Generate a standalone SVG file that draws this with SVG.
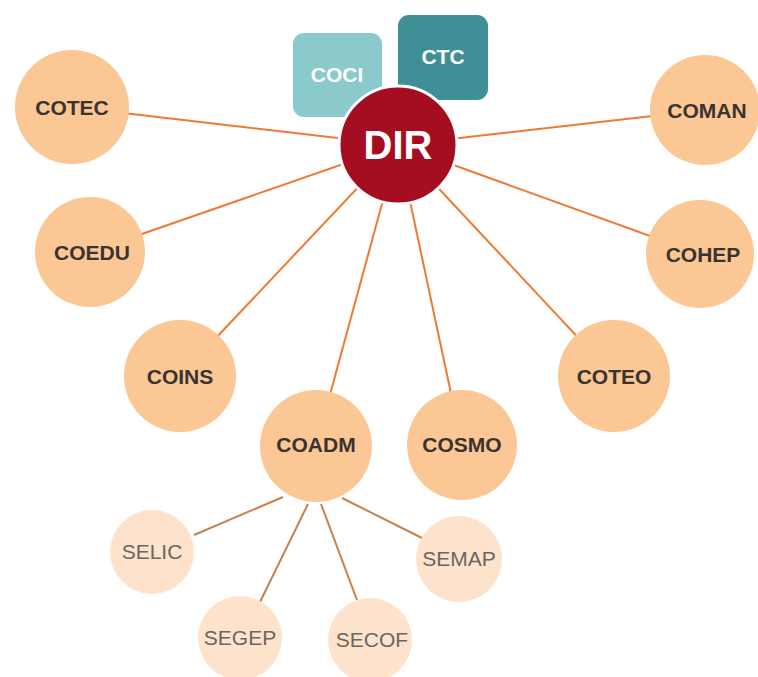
<svg xmlns="http://www.w3.org/2000/svg" width="758" height="677" viewBox="0 0 758 677">
<style>
.big{fill:#fbc795}
.small{fill:#fde3cb}
.bt{font-family:"Liberation Sans",Arial,sans-serif;font-weight:bold;font-size:21px;fill:#3a3330;text-anchor:middle}
.st{font-family:"Liberation Sans",Arial,sans-serif;font-size:21px;fill:#6a6663;text-anchor:middle}
.wt{font-family:"Liberation Sans",Arial,sans-serif;font-weight:bold;fill:#ffffff;text-anchor:middle}
.c1{stroke:#ee7a32;stroke-width:2;fill:none}
.c2{stroke:#c98149;stroke-width:2;fill:none}
</style>
<rect width="758" height="677" fill="#ffffff"/>
<g id="connectors">
<line class="c1" x1="398" y1="145" x2="72" y2="107"/>
<line class="c1" x1="398" y1="145" x2="705" y2="110"/>
<line class="c1" x1="398" y1="145" x2="90" y2="252"/>
<line class="c1" x1="398" y1="145" x2="700" y2="254"/>
<line class="c1" x1="398" y1="145" x2="180" y2="376"/>
<line class="c1" x1="398" y1="145" x2="614" y2="376"/>
<line class="c1" x1="398" y1="145" x2="316" y2="446"/>
<line class="c1" x1="398" y1="145" x2="462" y2="445"/>
<line class="c2" x1="283" y1="497" x2="194" y2="535"/>
<line class="c2" x1="308" y1="504" x2="260" y2="602"/>
<line class="c2" x1="321" y1="504" x2="357" y2="600"/>
<line class="c2" x1="342" y1="498" x2="422" y2="538"/>
</g>
<g id="COCI"><rect x="293" y="33" width="89" height="84" rx="11" fill="#8ac9cc"/><text class="wt" x="337" y="82" font-size="21">COCI</text></g>
<g id="CTC"><rect x="398" y="15" width="90" height="85" rx="11" fill="#3f8f96"/><text class="wt" x="443" y="64" font-size="21">CTC</text></g>
<g id="DIR"><circle cx="398" cy="145" r="59" fill="#a50e20" stroke="#ffffff" stroke-width="3"/><text class="wt" x="398" y="159" font-size="40">DIR</text></g>
<g id="COTEC"><circle class="big" cx="72" cy="107" r="57"/><text class="bt" x="72" y="115">COTEC</text></g>
<g id="COMAN"><circle class="big" cx="705" cy="110" r="55"/><text class="bt" x="707" y="118">COMAN</text></g>
<g id="COEDU"><circle class="big" cx="90" cy="252" r="55"/><text class="bt" x="92" y="260">COEDU</text></g>
<g id="COHEP"><circle class="big" cx="700" cy="254" r="54"/><text class="bt" x="703" y="262">COHEP</text></g>
<g id="COINS"><circle class="big" cx="180" cy="376" r="56"/><text class="bt" x="180" y="384">COINS</text></g>
<g id="COTEO"><circle class="big" cx="614" cy="376" r="56"/><text class="bt" x="614" y="384">COTEO</text></g>
<g id="COADM"><circle class="big" cx="316" cy="446" r="56"/><text class="bt" x="316" y="452">COADM</text></g>
<g id="COSMO"><circle class="big" cx="462" cy="445" r="55"/><text class="bt" x="462" y="452">COSMO</text></g>
<g id="SELIC"><circle class="small" cx="152" cy="552" r="42"/><text class="st" x="152" y="559">SELIC</text></g>
<g id="SEGEP"><circle class="small" cx="240" cy="638" r="42"/><text class="st" x="240" y="645">SEGEP</text></g>
<g id="SECOF"><circle class="small" cx="370" cy="640" r="42"/><text class="st" x="372" y="647">SECOF</text></g>
<g id="SEMAP"><circle class="small" cx="459" cy="559" r="43"/><text class="st" x="459" y="566">SEMAP</text></g>
</svg>
